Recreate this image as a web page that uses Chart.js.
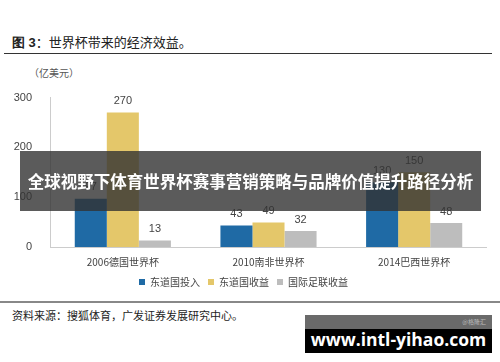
<!DOCTYPE html>
<html>
<head>
<meta charset="utf-8">
<script src="https://cdn.jsdelivr.net/npm/chart.js@4.4.0/dist/chart.umd.min.js"></script>
<style>
  body { margin: 0; width: 500px; height: 362px; background: #fff; position: relative; overflow: hidden;
         font-family: "Noto Sans CJK SC", "Liberation Sans", sans-serif; }
  .title { position: absolute; left: 12px; top: 32px; font-size: 13px; color: #222; }
  .title b { font-family: "Liberation Sans", sans-serif; }
  .rule1 { position: absolute; left: 4px; top: 53px; width: 488px; height: 1px; background: #333; }
  .unit { position: absolute; left: 29px; top: 65px; font-size: 10px; color: #555; }
  .rule2 { position: absolute; left: 0; top: 301px; width: 500px; height: 2px; background: #888; }
  .source { position: absolute; left: 12px; top: 307px; font-size: 11px; color: #222; }
  #box { position: absolute; left: 0; top: 81px; width: 487px; height: 216px; }
  .banner { position: absolute; left: 20px; top: 151px; width: 461px; height: 60px; background: rgba(50,50,50,0.8);
            color: #fff; font-weight: bold; font-size: 16.5px; line-height: 60px; text-align: center; white-space: nowrap; }
  .wm { position: absolute; left: 305px; top: 315px; width: 187px; height: 38px; background: #000; }
  .wm .top { height: 14px; background: #6a6a6a; color: #bbb; font-size: 6px; text-align: right; padding-right: 6px; line-height: 14px; }
  .wm .url { color: #fff; font-family: "Open Sans", "DejaVu Sans", sans-serif; font-weight: bold; font-size: 17.5px;
             text-align: center; line-height: 18px; margin-top: 1px; white-space: nowrap; }
</style>
</head>
<body>
<div class="title"><b>图 3</b>：世界杯带来的经济效益。</div>
<div class="rule1"></div>
<div class="unit">（亿美元）</div>
<div id="box"><canvas id="myChart"></canvas></div>
<div class="rule2"></div>
<div class="source">资料来源：搜狐体育，广发证券发展研究中心。</div>
<div class="banner">全球视野下体育世界杯赛事营销策略与品牌价值提升路径分析</div>
<div class="wm"><div class="top">@格隆汇</div><div class="url">www.intl-yihao.com</div></div>

<script>
const categories = ['2006德国世界杯', '2010南非世界杯', '2014巴西世界杯'];
const hostInvest = [97, 43, 130];   // 东道国投入
const hostIncome = [270, 49, 150];  // 东道国收益
const fifaIncome = [13, 32, 48];    // 国际足联收益
const yTicks = [0, 100, 200, 300];

// draw the value above each bar
const barLabels = {
    id: 'barLabels',
    afterDatasetsDraw(chart) {
        const ctx = chart.ctx;
        ctx.save();
        ctx.font = '11px "Liberation Sans", Arial, sans-serif';
        ctx.fillStyle = '#444';
        ctx.textAlign = 'center';
        ctx.textBaseline = 'bottom';
        chart.data.datasets.forEach((ds, i) => {
            chart.getDatasetMeta(i).data.forEach((bar, j) => {
                ctx.fillText(ds.data[j], bar.x, bar.y - 6);
            });
        });
        ctx.restore();
    }
};

const ctx = document.getElementById('myChart').getContext('2d');
const myChart = new Chart(ctx, {
    type: 'bar',
    data: {
        labels: categories,
        datasets: [
            { label: '东道国投入', data: hostInvest, backgroundColor: '#1f6aa5' },
            { label: '东道国收益', data: hostIncome, backgroundColor: '#e4c76a' },
            { label: '国际足联收益', data: fifaIncome, backgroundColor: '#bdbdbd' }
        ]
    },
    plugins: [barLabels],
    options: {
        responsive: true,
        maintainAspectRatio: false,
        animation: false,
        categoryPercentage: 0.66,
        barPercentage: 1,
        layout: { padding: { top: 5, left: 0, right: 0 } },
        plugins: {
            tooltip: { enabled: false },
            legend: {
                position: 'bottom',
                labels: {
                    boxWidth: 6, boxHeight: 6, padding: 8,
                    color: '#444',
                    font: { size: 10, family: '"Noto Sans CJK SC", sans-serif' }
                }
            }
        },
        scales: {
            x: {
                grid: { display: false },
                border: { color: '#ccc' },
                ticks: { color: '#444', padding: 1, font: { size: 10, family: '"Noto Sans CJK SC", sans-serif' } }
            },
            y: {
                min: 0, max: 300,
                afterBuildTicks: axis => { axis.ticks = yTicks.map(v => ({ value: v })); },
                afterFit: axis => { axis.width = 50; },
                grid: { display: false },
                border: { color: '#ccc' },
                ticks: { color: '#444', padding: 10, font: { size: 11, family: '"Liberation Sans", Arial, sans-serif' } }
            }
        }
    }
});
</script>
</body>
</html>
